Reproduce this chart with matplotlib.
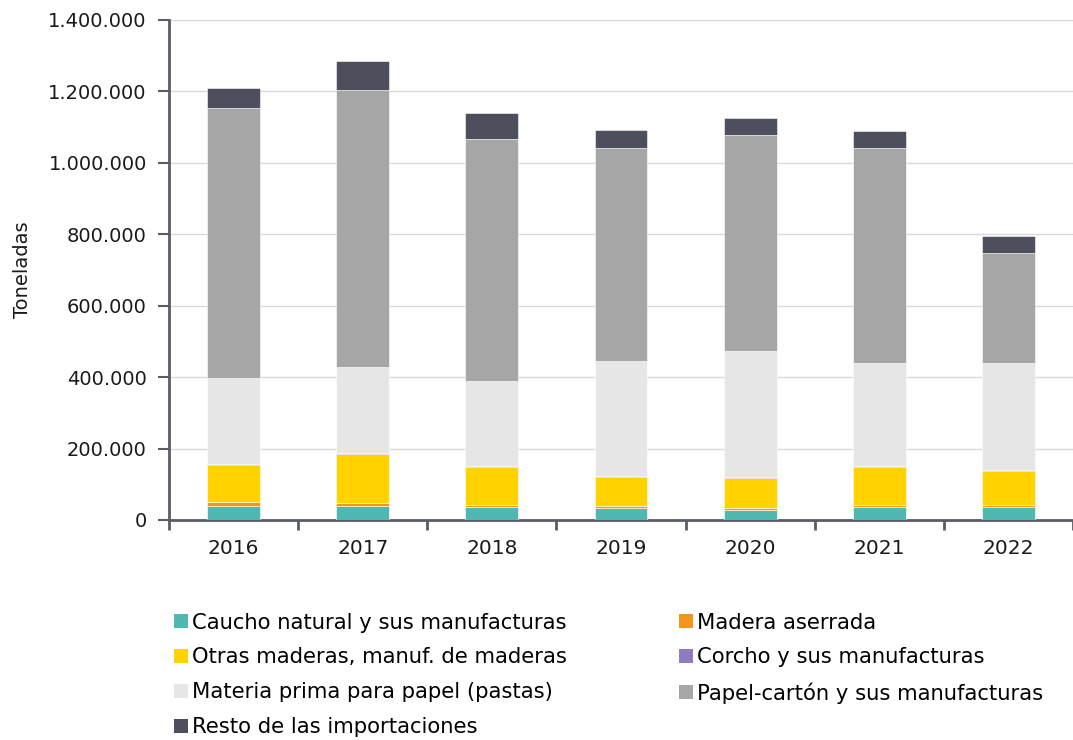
import numpy as np
import matplotlib.pyplot as plt
from matplotlib.patches import Patch
from matplotlib.ticker import FuncFormatter

years = ["2016", "2017", "2018", "2019", "2020", "2021", "2022"]

caucho = [40000, 40000, 36400, 34500, 28900, 36400, 36400]
madera = [9000, 8000, 6500, 4700, 3800, 6500, 5600]
otras = [106000, 137000, 105500, 81200, 85800, 106400, 95200]
corcho = [2500, 2000, 2800, 2800, 1900, 1900, 2800]
materia = [240000, 241000, 238000, 322000, 352800, 288400, 299600]
papel = [756000, 775600, 677600, 596400, 604800, 602000, 308000]
resto = [56000, 81000, 72800, 50400, 47600, 47600, 47600]

series = [
    ("Caucho natural y sus manufacturas", caucho, "#4fb8b0"),
    ("Madera aserrada", madera, "#f7941d"),
    ("Otras maderas, manuf. de maderas", otras, "#ffd200"),
    ("Corcho y sus manufacturas", corcho, "#8e7cc3"),
    ("Materia prima para papel (pastas)", materia, "#e6e6e6"),
    ("Papel-cartón y sus manufacturas", papel, "#a6a6a6"),
    ("Resto de las importaciones", resto, "#4d4f5c"),
]

plt.rcParams["font.family"] = ["DejaVu Sans"]
axis_col = "#5a5c66"
txt_col = "#1a1a1a"

fig = plt.figure(figsize=(10.73, 7.40), dpi=100)
ax = fig.add_axes([0.1575, 0.2973, 0.8425, 0.6757])

x = np.arange(len(years))
bottom = np.zeros(len(years))
handles = []
for label, vals, col in series:
    vals = np.array(vals, dtype=float)
    ax.bar(x, vals, 0.41, bottom=bottom, color=col, edgecolor="white",
           linewidth=0.4, zorder=3)
    bottom += vals
    handles.append(Patch(facecolor=col, label=label))

ax.set_xlim(-0.5, len(years) - 0.5)
ax.set_ylim(0, 1400000)
ax.set_yticks(np.arange(0, 1400001, 200000))
ax.yaxis.set_major_formatter(FuncFormatter(lambda v, p: f"{int(v):,}".replace(",", ".")))
ax.grid(axis="y", color="#d9d9d9", linewidth=1, zorder=0)

ax.set_xticks(np.arange(-0.5, len(years), 1.0))
ax.set_xticklabels([])
ax.set_xticks(x, minor=True)
ax.set_xticklabels(years, minor=True)
ax.tick_params(axis="x", which="minor", length=0, pad=14, labelsize=14.5, labelcolor=txt_col)
ax.tick_params(axis="x", which="major", length=7, width=2, color=axis_col)
ax.tick_params(axis="y", length=8, width=1.5, color=axis_col, labelsize=14,
               labelcolor=txt_col, pad=8)

for s in ["top", "right"]:
    ax.spines[s].set_visible(False)
for s in ["left", "bottom"]:
    ax.spines[s].set_color(axis_col)
    ax.spines[s].set_linewidth(2)

ax.set_ylabel("Toneladas", fontsize=14, color=txt_col, labelpad=12)

order = [0, 2, 4, 6, 1, 3, 5]
fig.legend([handles[i] for i in order], [handles[i].get_label() for i in order],
           ncol=2, loc="upper left", bbox_to_anchor=(0.162, 0.172),
           frameon=False, fontsize=15.2, handlelength=0.65, handleheight=0.65,
           handletextpad=0.2, columnspacing=5.33, labelspacing=0.70,
           borderaxespad=0, borderpad=0)

fig.savefig("out.png", dpi=100)
